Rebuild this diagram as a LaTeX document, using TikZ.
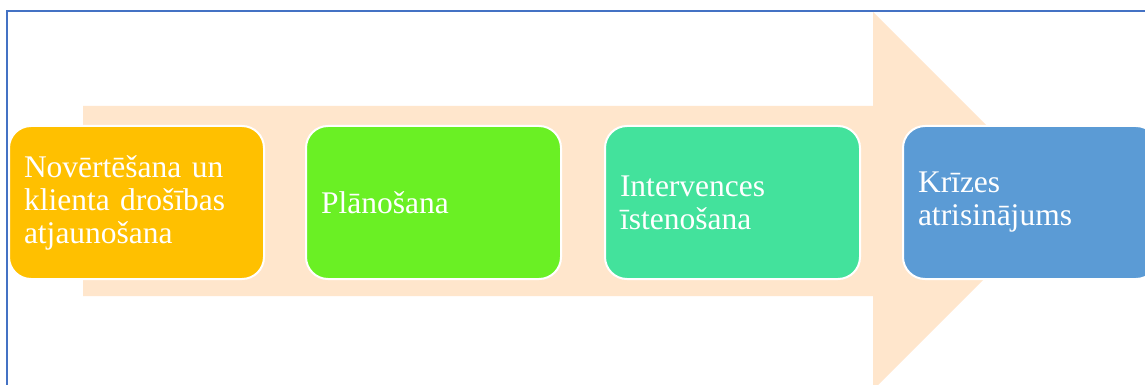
\documentclass[tikz,border=0pt]{standalone}
\usepackage{fontspec}
\setmainfont{Liberation Serif}
\definecolor{frameblue}{HTML}{4472C4}
\definecolor{peach}{HTML}{FFE6CC}
\definecolor{cA}{HTML}{FFC000}
\definecolor{cB}{HTML}{6AF024}
\definecolor{cC}{HTML}{43E29C}
\definecolor{cD}{HTML}{5B9BD5}
\tikzset{
  stepbox/.style={draw=white, line width=2pt, rounded corners=22pt,
    minimum width=255pt, minimum height=153pt, text width=225pt,
    inner xsep=15pt, inner ysep=0pt, align=left, anchor=north west,
    text=white, font=\fontsize{31.5}{33}\selectfont},
}
\begin{document}
\begin{tikzpicture}[x=1pt,y=-1pt]
\useasboundingbox (0,0) rectangle (1145,385);
\clip (0,0) rectangle (1145,385);
\fill[white] (0,0) rectangle (1145,385);
\draw[frameblue, line width=2pt] (6.5,400) -- (6.5,11) -- (1160,11);
\fill[peach] (83,106) -- (873,106) -- (873,12) -- (1062,201) -- (873,390) -- (873,296) -- (83,296) -- cycle;
\node[stepbox, fill=cA] (s1) at (8,125) {Novērtēšana un\\klienta drošības\\atjaunošana};
\node[stepbox, fill=cB] (s2) at (305,125) {Plānošana};
\node[stepbox, fill=cC] (s3) at (604,125) {Intervences\\īstenošana};
\node[stepbox, fill=cD] (s4) at (902,125) {Krīzes\\atrisinājums};
\end{tikzpicture}
\end{document}
